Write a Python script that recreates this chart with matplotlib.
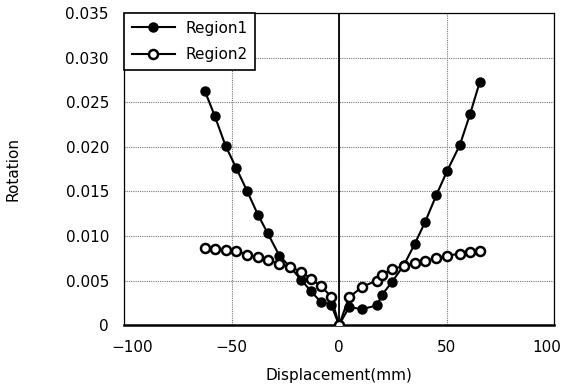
import matplotlib
matplotlib.use("Agg")
import matplotlib.pyplot as plt
from matplotlib.ticker import FuncFormatter
from matplotlib.transforms import ScaledTranslation

plt.rcParams['font.family'] = ['DejaVu Sans']

# displacement positions (mm), shared by both series
disp = [-62.5, -57.9, -52.8, -47.8, -42.7, -37.8, -33.2, -27.8, -22.7, -17.7,
        -13.1, -8.5, -3.7, 0.0, 4.6, 10.8, 17.6, 20.0, 24.5, 30.1, 35.2,
        40.1, 45.3, 50.3, 56.2, 61.0, 65.5]

region1 = [0.0263, 0.0235, 0.0201, 0.0176, 0.0150, 0.0124, 0.0103, 0.0078,
           0.0065, 0.0051, 0.0038, 0.0026, 0.0023, 0.0, 0.0020, 0.0018,
           0.0022, 0.0034, 0.0048, 0.0067, 0.0091, 0.0116, 0.0146, 0.0173,
           0.0202, 0.0237, 0.0273]

region2 = [0.0087, 0.0085, 0.0084, 0.0083, 0.0079, 0.0076, 0.0073, 0.0069,
           0.0065, 0.0060, 0.0052, 0.0044, 0.0032, 0.0, 0.0031, 0.0043,
           0.0050, 0.0056, 0.0063, 0.0066, 0.0070, 0.0072, 0.0075, 0.0078,
           0.0080, 0.0082, 0.0083]

x_ticks = [-100, -50, 0, 50, 100]
y_ticks = [0, 0.005, 0.010, 0.015, 0.020, 0.025, 0.030, 0.035]

FS = 11

fig = plt.figure(figsize=(5.67, 3.87), dpi=100)
ax = fig.add_axes([0.219, 0.160, 0.758, 0.806])

ax.plot(disp, region1, '-o', color='black', lw=1.5, ms=6.5,
        mfc='black', mec='black', label='Region1', zorder=4)
ax.plot(disp, region2, '-o', color='black', lw=1.5, ms=6.5,
        mfc='white', mec='black', mew=1.8, label='Region2', zorder=5)

ax.axvline(0, color='black', lw=1.3, zorder=2)

ax.set_xlim(-100, 100)
ax.set_ylim(0, 0.035)
ax.set_xticks(x_ticks)
ax.set_yticks(y_ticks)
ax.xaxis.set_major_formatter(FuncFormatter(lambda v, p: '0' if v == 0 else f'{v:.0f}'.replace('-', '\u2212')))
ax.yaxis.set_major_formatter(FuncFormatter(lambda v, p: '0' if v == 0 else f'{v:.3f}'))
ax.tick_params(length=0, labelsize=FS, pad=11)
ax.grid(True, color='#777777', ls=(0, (1, 1)), lw=0.8)
ax.set_axisbelow(True)

# nudge the end labels inward like the reference
fig.canvas.draw()
xlabels = ax.get_xticklabels()
xlabels[0].set_transform(xlabels[0].get_transform() + ScaledTranslation(6 / 72, 0, fig.dpi_scale_trans))
xlabels[-1].set_transform(xlabels[-1].get_transform() + ScaledTranslation(-5 / 72, 0, fig.dpi_scale_trans))

for s in ['top', 'right', 'left']:
    ax.spines[s].set_linewidth(0.9)
ax.spines['bottom'].set_linewidth(1.8)

ax.set_xlabel('Displacement(mm)', fontsize=FS, labelpad=9)
ax.set_ylabel('Rotation', fontsize=FS)
ax.yaxis.set_label_coords(-0.242, 0.5)

leg = ax.legend(loc='upper left', bbox_to_anchor=(0.0, 1.0), fancybox=False,
                framealpha=1, edgecolor='black', fontsize=FS, handlelength=2.8,
                handletextpad=0.7, borderpad=0.5, labelspacing=0.75,
                borderaxespad=0.0)
leg.get_frame().set_linewidth(1.2)

fig.savefig('out.png', dpi=100)
